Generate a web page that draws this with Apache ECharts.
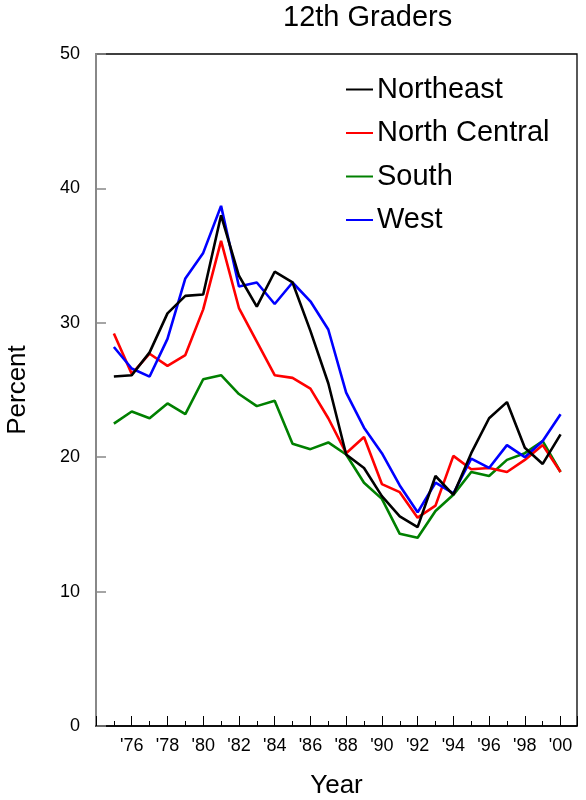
<!DOCTYPE html>
<html>
<head>
<meta charset="utf-8">
<script src="https://cdn.jsdelivr.net/npm/echarts@6/dist/echarts.min.js"></script>
<style>
html,body{margin:0;padding:0;background:#fff;}
#chart{width:586px;height:800px;}
</style>
</head>
<body>
<div id="chart"></div>
<script>
const years = [1975,1976,1977,1978,1979,1980,1981,1982,1983,1984,1985,1986,1987,1988,1989,1990,1991,1992,1993,1994,1995,1996,1997,1998,1999,2000];
const northeast    = [26.0,26.1,27.8,30.7,32.0,32.1,38.0,33.5,31.2,33.8,33.0,29.4,25.5,20.2,19.2,17.1,15.6,14.8,18.6,17.2,20.3,22.9,24.1,20.7,19.5,21.7];
const northCentral = [29.2,26.2,27.7,26.8,27.6,31.0,36.1,31.1,28.6,26.1,25.9,25.1,22.9,20.3,21.5,18.0,17.4,15.5,16.4,20.1,19.1,19.2,18.9,19.8,20.9,18.9];
const south        = [22.5,23.4,22.9,24.0,23.2,25.8,26.1,24.7,23.8,24.2,21.0,20.6,21.1,20.2,18.1,16.9,14.3,14.0,16.0,17.2,18.9,18.6,19.8,20.3,21.2,18.9];
const west         = [28.2,26.6,26.0,28.8,33.3,35.2,38.7,32.7,33.0,31.4,33.0,31.6,29.5,24.8,22.2,20.3,17.9,15.9,18.1,17.3,19.9,19.2,20.9,20.0,21.2,23.2];
const seriesNames = ['Northeast','North Central','South','West'];
const yTicks = [0,10,20,30,40,50];

const FONT = 'Liberation Sans, Arial, sans-serif';
const pair = arr => years.map((y,i)=>[y,arr[i]]);

const chart = echarts.init(document.getElementById('chart'), null, {renderer:'canvas'});
chart.setOption({
  animation:false,
  backgroundColor:'#fff',
  title:{
    text:'12th Graders', left:283, top:3, padding:0,
    textStyle:{fontFamily:FONT,fontSize:29,fontWeight:'normal',color:'#000'}
  },
  legend:{
    orient:'vertical', left:346, top:74.5, padding:0,
    icon:'rect', itemWidth:27, itemHeight:2, itemGap:13.5,
    data:seriesNames,
    textStyle:{fontFamily:FONT,fontSize:29,color:'#000',lineHeight:30,padding:[0,0,0,-1]}
  },
  grid:{left:96,right:9,top:54,bottom:74,show:true,borderColor:'#000',borderWidth:1.3,containLabel:false,outerBoundsMode:'none'},
  xAxis:[{
    type:'value', min:1974, max:2000.92, interval:2, position:'bottom',
    name:'Year', nameLocation:'middle', nameGap:47,
    nameTextStyle:{fontFamily:FONT,fontSize:26,color:'#000'},
    axisLine:{show:true,lineStyle:{color:'#000',width:1.5}},
    axisTick:{show:true,inside:true,length:10,lineStyle:{color:'#000',width:1}},
    axisLabel:{margin:11,fontFamily:FONT,fontSize:18,color:'#000',showMinLabel:true,showMaxLabel:true,
      formatter:function(v){ return (Number.isInteger(v) && v>1974 && v<=2000 && v%2===0) ? "'" + String(v).slice(2) : ''; }},
    splitLine:{show:false}
  },{
    type:'value', min:1974, max:2000.92, interval:1, position:'bottom',
    axisLine:{show:false},
    axisTick:{show:true,inside:true,length:5,lineStyle:{color:'#000',width:1}},
    axisLabel:{show:false},
    splitLine:{show:false}
  }],
  yAxis:{
    type:'value', min:yTicks[0], max:yTicks[yTicks.length-1], interval:10,
    name:'Percent', nameLocation:'middle', nameGap:65, nameRotate:90,
    nameTextStyle:{fontFamily:FONT,fontSize:26,color:'#000'},
    axisLine:{show:true,lineStyle:{color:'#888',width:2}},
    axisTick:{show:true,inside:true,length:10,lineStyle:{color:'#888',width:1.5}},
    axisLabel:{margin:16,fontFamily:FONT,fontSize:18,color:'#000'},
    splitLine:{show:false}
  },
  series:[
    {name:seriesNames[0],type:'line',data:pair(northeast),showSymbol:false,color:'#000000',lineStyle:{width:2.6},z:5},
    {name:seriesNames[1],type:'line',data:pair(northCentral),showSymbol:false,color:'#ff0000',lineStyle:{width:2.6},z:3},
    {name:seriesNames[2],type:'line',data:pair(south),showSymbol:false,color:'#008000',lineStyle:{width:2.6},z:2},
    {name:seriesNames[3],type:'line',data:pair(west),showSymbol:false,color:'#0000ff',lineStyle:{width:2.6},z:4}
  ]
});
</script>
</body>
</html>
